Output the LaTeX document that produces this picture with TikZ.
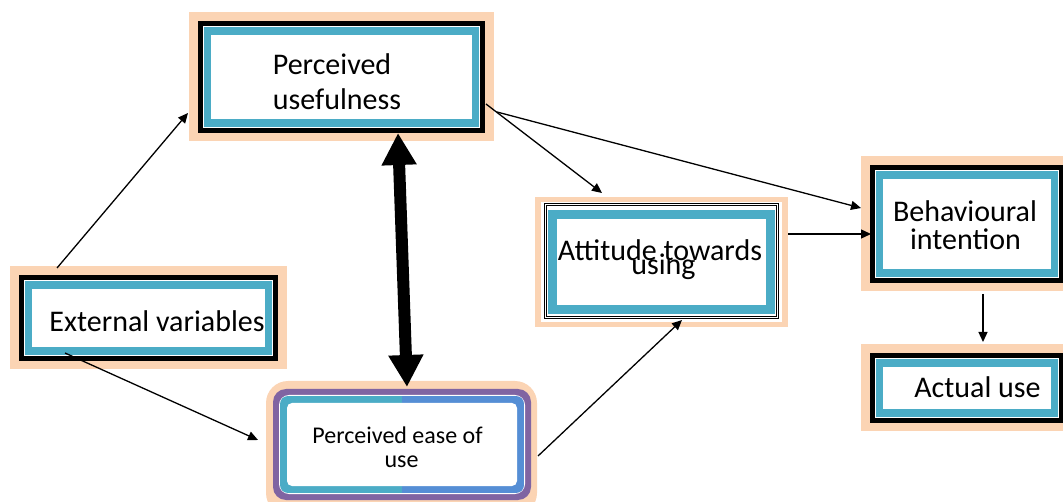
\documentclass[tikz,border=0pt]{standalone}
\usepackage{fontspec}
\setmainfont{Carlito}
\usetikzlibrary{arrows.meta,calc}
\definecolor{peach}{HTML}{FBD4B4}
\definecolor{tealc}{HTML}{4BACC6}
\definecolor{bluec}{HTML}{558ED5}
\definecolor{purplec}{HTML}{8064A2}
\newcommand\tambox[4]{%
  \fill[peach] (#1,#2) rectangle (#3,#4);
  \fill[black] ({#1+9},{#2+9}) rectangle ({#3-9},{#4-8});
  \fill[white] ({#1+14},{#2+14}) rectangle ({#3-14},{#4-13});
  \fill[tealc] ({#1+15},{#2+15}) rectangle ({#3-15},{#4-14});
  \fill[white] ({#1+22},{#2+23}) rectangle ({#3-22},{#4-22});
}
\begin{document}
\begin{tikzpicture}[x=1pt,y=-1pt,
  conn/.style={line width=1.3pt,-{Triangle[length=10pt,width=9pt]}},
  big/.style={line width=12pt,{Triangle[length=32pt,width=33pt]}-{Triangle[length=32pt,width=33pt]}},
  lbl/.style={font=\fontsize{30}{30}\selectfont,inner sep=0pt,anchor=base},
  slbl/.style={font=\fontsize{24}{24}\selectfont,inner sep=0pt,anchor=base},
  area/.style={inner sep=0pt,outer sep=0pt,draw=none}]
\useasboundingbox (0,0) rectangle (1063,502);

% square framed boxes
\tambox{189}{12}{494}{141}
\tambox{10}{266}{287}{369}
\tambox{861}{156}{1073}{291}
\tambox{861}{344}{1073}{431}

% attitude box
\fill[peach] (535,197) rectangle (788,327);
\fill[white] (541,202) rectangle (782,322);
\draw[line width=0.8pt] (544,203) rectangle (778,318);
\draw[line width=0.8pt] (546,205) rectangle (776,316);
\fill[tealc] (548,210) rectangle (775,314);
\fill[white] (557,219) rectangle (766,305);

% perceived ease of use box
\fill[peach,rounded corners=22pt] (266,381) rectangle (537,515);
\fill[purplec,rounded corners=13pt] (273,389) rectangle (531,500);
\fill[white,rounded corners=10pt] (279,395) rectangle (525,494);
\begin{scope}
  \clip[rounded corners=8pt] (280,396) rectangle (524,493);
  \fill[tealc] (280,396) rectangle (402,493);
  \fill[bluec] (402,396) rectangle (524,493);
\end{scope}
\fill[white,rounded corners=5pt] (287,403) rectangle (517,486);

% named areas
\node[area,minimum width=305pt,minimum height=129pt] (pu) at (341.5,76.5) {};
\node[area,minimum width=277pt,minimum height=103pt] (ev) at (148.5,317.5) {};
\node[area,minimum width=253pt,minimum height=130pt] (att) at (661.5,262) {};
\node[area,minimum width=202pt,minimum height=135pt] (bi) at (962,223.5) {};
\node[area,minimum width=202pt,minimum height=87pt] (au) at (962,387.5) {};
\node[area,minimum width=271pt,minimum height=130pt] (peou) at (401.5,446) {};

% labels
\node[lbl] (pu1) at (332,75) {Perceived};
\node[lbl] (pu2) at (337,110) {usefulness};
\node[lbl] (ev1) at (157,332) {External variables};
\node[slbl] (peou1) at (397.5,443) {Perceived ease of};
\node[slbl] (peou2) at (401.5,467) {use};
\node[lbl] (att1) at (660,261) {Attitude towards};
\node[lbl] (att2) at (663.5,275) {using};
\node[lbl] (bi1) at (965,222) {Behavioural};
\node[lbl] (bi2) at (965.5,250) {intention};
\node[lbl] (au1) at (977.5,398) {Actual use};

% connectors
\draw[conn] ($(ev.north west)+(47,2)$) -- ($(pu.west)+(-1,36.5)$);
\draw[conn] ($(ev.south west)+(55,-16)$) -- ($(peou.west)+(-8,-6)$);
\draw[conn] ($(pu.east)+(-8,27.5)$) -- ($(att.north)+(-59.5,-4)$);
\draw[conn] ($(pu.east)+(3,35.5)$) -- ($(bi.west)+(0,-15.5)$);
\draw[conn] ($(att.east)+(0,-28)$) -- ($(bi.west)+(10,10.5)$);
\draw[conn] ($(peou.east)+(1,10)$) -- ($(att.south)+(20.5,-7)$);
\draw[conn] ($(bi.south)+(21,3)$) -- ($(au.north)+(21,-2)$);
\draw[big] ($(pu.south)+(56.5,-8)$) -- ($(peou.north)+(5.5,6)$);
\end{tikzpicture}
\end{document}
